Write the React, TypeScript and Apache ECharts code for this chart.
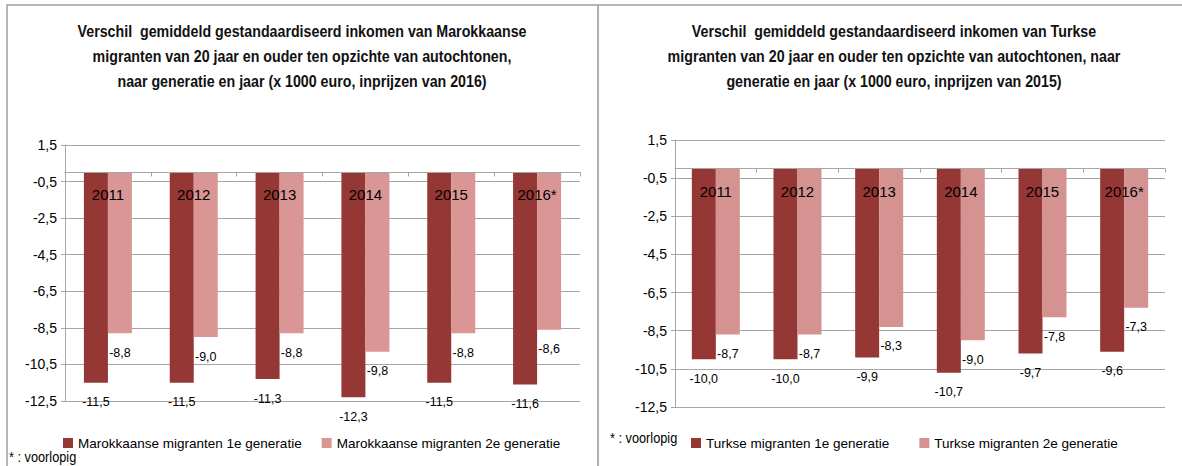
import React, { useEffect, useRef } from "react";
import * as echarts from "echarts";

const years = ["2011", "2012", "2013", "2014", "2015", "2016*"];
const marokkaans1e = [-11.5, -11.5, -11.3, -12.3, -11.5, -11.6];
const marokkaans2e = [-8.8, -9.0, -8.8, -9.8, -8.8, -8.6];
const turks1e = [-10.0, -10.0, -9.9, -10.7, -9.7, -9.6];
const turks2e = [-8.7, -8.7, -8.3, -9.0, -7.8, -7.3];

const seriesNames = [
  "Marokkaanse migranten 1e generatie",
  "Marokkaanse migranten 2e generatie",
  "Turkse migranten 1e generatie",
  "Turkse migranten 2e generatie",
];

const titleLeft = [
  "Verschil  gemiddeld gestandaardiseerd inkomen van Marokkaanse",
  "migranten van 20 jaar en ouder ten opzichte van autochtonen,",
  "naar generatie en jaar (x 1000 euro, inprijzen van 2016)",
];
const titleRight = [
  "Verschil  gemiddeld gestandaardiseerd inkomen van Turkse",
  "migranten van 20 jaar en ouder ten opzichte van autochtonen, naar",
  "generatie en jaar (x 1000 euro, inprijzen van 2015)",
];
const footnote = "* : voorlopig";

const FONT = "'Liberation Sans', Arial, sans-serif";
const GRID = "#a6a6a6";
const DARK = "#953735";
const LIGHT_L = "#d99694";
const LIGHT_R = "#d49391";

const fmt = (v: number) => v.toFixed(1).replace(".", ",");

export default function App() {
  const ref = useRef<HTMLDivElement>(null);
  useEffect(() => {
    if (!ref.current) return;
    const chart = echarts.init(ref.current, undefined, { renderer: "svg" });

    const yAxis = (gridIndex: number) => ({
      type: "value",
      gridIndex,
      min: -12.5,
      max: 1.5,
      interval: 2,
      axisLine: { show: true, lineStyle: { color: GRID, width: 1 } },
      axisTick: { show: true, length: 4, lineStyle: { color: GRID } },
      splitLine: { show: true, lineStyle: { color: GRID, width: 1 } },
      axisLabel: {
        formatter: (v: number) => fmt(v),
        color: "#000",
        fontSize: 14,
        fontFamily: FONT,
        margin: 8,
      },
    });
    // main category axis: line + ticks on the zero line
    const xAxisMain = (gridIndex: number) => ({
      type: "category",
      gridIndex,
      data: years,
      z: 5,
      axisLine: { show: true, onZero: true, lineStyle: { color: GRID, width: 1 } },
      axisTick: { show: true, length: 4, lineStyle: { color: GRID } },
      axisLabel: { show: false },
    });
    // label-only category axis, labels drawn just under the zero line
    const xAxisLabels = (gridIndex: number, margin: number) => ({
      type: "category",
      gridIndex,
      data: years,
      position: "top",
      z: 6,
      axisLine: { show: false, onZero: false },
      axisTick: { show: false },
      splitLine: { show: false },
      axisLabel: {
        inside: true,
        margin,
        color: "#000",
        fontSize: 15,
        fontFamily: FONT,
      },
    });
    const label = {
      show: true,
      position: "bottom",
      distance: 13,
      color: "#000",
      fontSize: 12.5,
      fontFamily: FONT,
      formatter: (p: any) => fmt(p.value),
    };
    const bar = (name: string, data: number[], color: string, idx: number) => ({
      type: "bar",
      name,
      data,
      xAxisIndex: idx,
      yAxisIndex: idx,
      barWidth: 24,
      barGap: "0%",
      itemStyle: { color },
      label,
    });

    const titleText = (lines: string[], x: number) => ({
      type: "text",
      x,
      y: 19,
      scaleX: 0.89,
      style: {
        text: lines.join("\n"),
        align: "center",
        verticalAlign: "top",
        fontFamily: FONT,
        fontWeight: "bold",
        fontSize: 16,
        lineHeight: 25,
        fill: "#111",
      },
    });
    const noteText = (x: number, y: number) => ({
      type: "text",
      x,
      y,
      scaleX: 0.85,
      style: {
        text: footnote,
        verticalAlign: "middle",
        fontFamily: FONT,
        fontSize: 15,
        fill: "#000",
      },
    });
    const legendText = { fontSize: 13.5, fontFamily: FONT, color: "#000" };

    chart.setOption({
      animation: false,
      backgroundColor: "#fff",
      grid: [
        { left: 65, top: 145, width: 515, height: 256 },
        { left: 675, top: 140, width: 490, height: 267 },
      ],
      xAxis: [xAxisMain(0), xAxisMain(1), xAxisLabels(0, 42), xAxisLabels(1, 44)],
      yAxis: [yAxis(0), yAxis(1)],
      legend: [
        {
          data: [seriesNames[0], seriesNames[1]],
          left: 58,
          top: 431,
          itemWidth: 10,
          itemHeight: 10,
          itemGap: 20,
          icon: "rect",
          textStyle: legendText,
        },
        {
          data: [seriesNames[2], seriesNames[3]],
          left: 686,
          top: 431,
          itemWidth: 10,
          itemHeight: 10,
          itemGap: 30,
          icon: "rect",
          textStyle: legendText,
        },
      ],
      series: [
        bar(seriesNames[0], marokkaans1e, DARK, 0),
        bar(seriesNames[1], marokkaans2e, LIGHT_L, 0),
        bar(seriesNames[2], turks1e, DARK, 1),
        bar(seriesNames[3], turks2e, LIGHT_R, 1),
      ],
      graphic: [
        {
          type: "polyline",
          shape: { points: [[7, 466], [7, 5], [1182, 5]] },
          style: { stroke: "#a0a0a0", lineWidth: 1.5, fill: "none" },
          silent: true,
        },
        {
          type: "line",
          shape: { x1: 598, y1: 5, x2: 598, y2: 466 },
          style: { stroke: "#b0b0b0", lineWidth: 2 },
          silent: true,
        },
        titleText(titleLeft, 302),
        titleText(titleRight, 894),
        noteText(9, 457),
        noteText(610, 438),
      ],
    });
    return () => chart.dispose();
  }, []);
  return (
    <div
      ref={ref}
      style={{ position: "fixed", left: 0, top: 0, width: 1182, height: 466 }}
    />
  );
}
